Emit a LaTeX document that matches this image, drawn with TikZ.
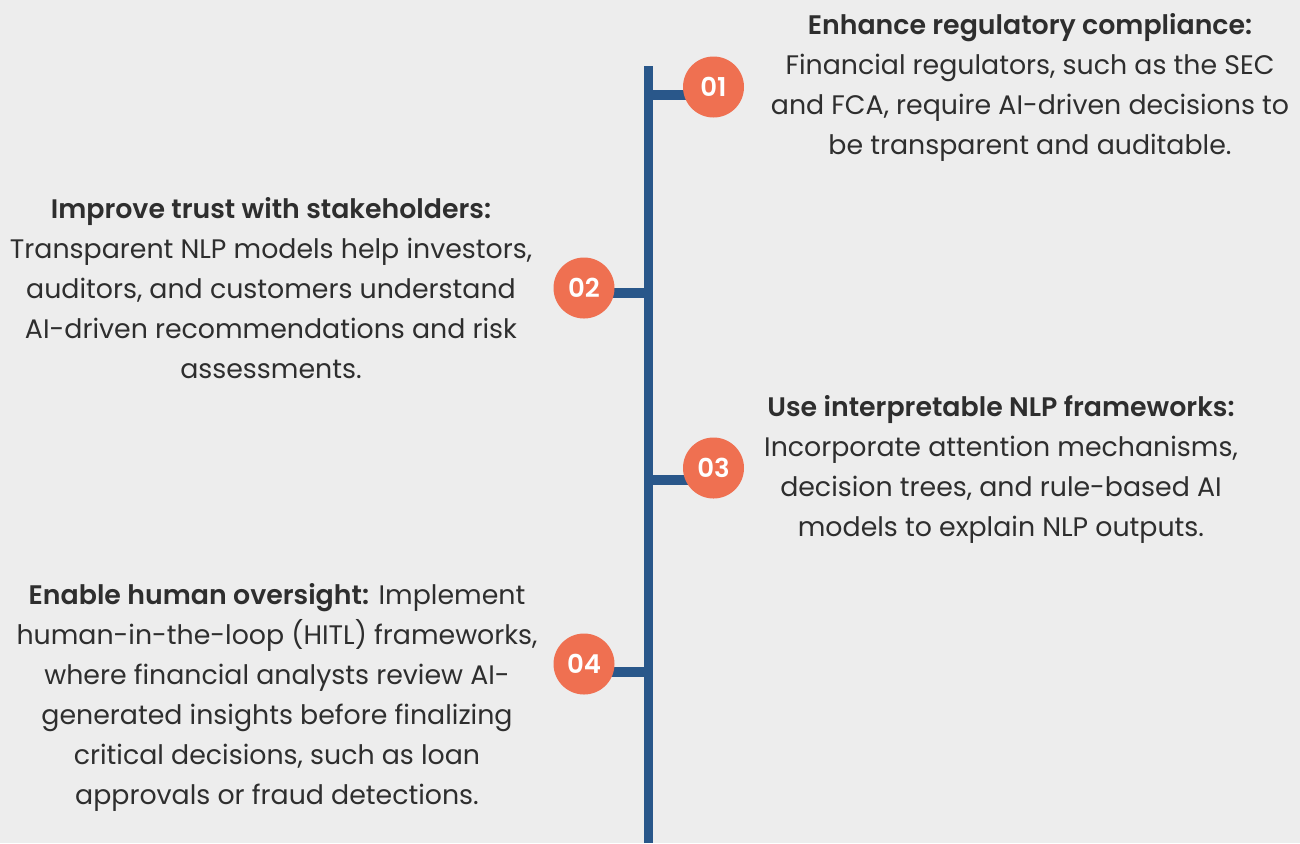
\documentclass[tikz,border=0pt]{standalone}
\usepackage{fontspec}
\setmainfont{Poppins}[BoldFont={Poppins SemiBold}]
\usepackage{xcolor}
\usetikzlibrary{positioning,calc}

\definecolor{pagebg}{HTML}{EDEDED}
\definecolor{spineblue}{HTML}{29578A}
\definecolor{badgeorange}{HTML}{EF7051}
\definecolor{bodytext}{HTML}{2E2E2E}

\begin{document}
\begin{tikzpicture}[x=0.5pt, y=-0.5pt,
badge/.style={circle, fill=badgeorange, text=white, minimum size=30.5pt, inner sep=0pt, font=\fontsize{13}{13}\selectfont\bfseries},
note/.style={align=center, text=bodytext, inner sep=0pt, font=\fontsize{13.4}{20}\selectfont},
spine/.style={draw=spineblue, line width=4.6pt}
]
\fill[pagebg] (0,0) rectangle (1300,843);
\useasboundingbox (0,0) rectangle (1300,843);

% timeline spine and its junctions
\coordinate (top) at (648.5,66);
\coordinate (bot) at (648.5,843);
\coordinate (j1) at (648.5,95);
\coordinate (j2) at (648.5,293);
\coordinate (j3) at (648.5,480);
\coordinate (j4) at (648.5,672);
\draw[spine] (top) -- (bot);

% branches first, so the badges sit on top
\coordinate (c1) at (713.5,87);
\coordinate (c2) at (584,288);
\coordinate (c3) at (713.5,468);
\coordinate (c4) at (584,664);
\draw[spine] (j1) -- (j1 -| c1);
\draw[spine] (j2) -- (j2 -| c2);
\draw[spine] (j3) -- (j3 -| c3);
\draw[spine] (j4) -- (j4 -| c4);

\node[badge] (b1) at (c1) {01};
\node[badge] (b2) at (c2) {02};
\node[badge] (b3) at (c3) {03};
\node[badge] (b4) at (c4) {04};

% texts
\node[note] (t1) at (1030,87) {\textbf{Enhance regulatory compliance:}\\Financial regulators, such as the SEC\\and FCA, require AI-driven decisions to\\be transparent and auditable.};
\node[note] (t2) at (271,288) {\textbf{Improve trust with stakeholders:}\\Transparent NLP models help investors,\\auditors, and customers understand\\AI-driven recommendations and risk\\assessments.};
\node[note] (t3) at (1001,469) {\textbf{Use interpretable NLP frameworks:}\\Incorporate attention mechanisms,\\decision trees, and rule-based AI\\models to explain NLP outputs.};
\node[note] (t4) at (277,697) {\textbf{Enable human oversight:} Implement\\human-in-the-loop (HITL) frameworks,\\where financial analysts review AI-\\generated insights before finalizing\\critical decisions, such as loan\\approvals or fraud detections.};
\end{tikzpicture}
\end{document}
